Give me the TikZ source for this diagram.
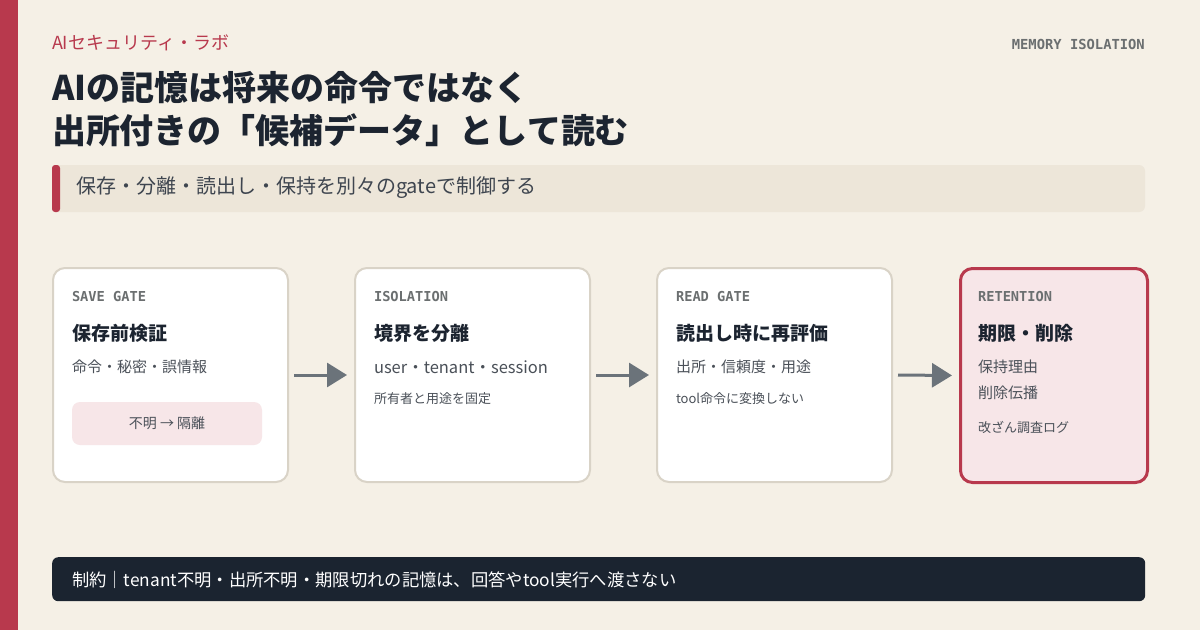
\documentclass[tikz,border=0pt]{standalone}
\usepackage{fontspec}
\setmainfont{Noto Sans CJK JP}
\newfontfamily\monob{DejaVu Sans Mono}[BoldFont={DejaVu Sans Mono Bold}]
\usetikzlibrary{arrows.meta}
\definecolor{bg}{HTML}{F5F0E6}
\definecolor{crim}{HTML}{B8394D}
\definecolor{ink}{HTML}{1C2430}
\definecolor{sub}{HTML}{4A5058}
\definecolor{lbl}{HTML}{6B6F70}
\definecolor{band}{HTML}{EDE6D9}
\definecolor{cardb}{HTML}{D9D3C7}
\definecolor{pink}{HTML}{F7E6E8}
\definecolor{arr}{HTML}{6B737A}
\definecolor{dark}{HTML}{1B2430}
\tikzset{
  txt/.style={anchor=west,inner sep=0pt,outer sep=0pt},
  card/.style={draw=cardb,line width=2pt,fill=white,rounded corners=12pt,inner sep=0pt,anchor=north west},
  lab/.style={txt,font=\monob\bfseries\fontsize{13.7}{13.7}\selectfont,text=lbl},
  ttl/.style={txt,font=\bfseries\fontsize{19}{19}\selectfont,text=ink},
  sbt/.style={txt,font=\fontsize{15}{15}\selectfont,text=sub},
  sml/.style={txt,font=\fontsize{13}{13}\selectfont,text=sub},
  flow/.style={draw=arr,line width=3pt,-{Triangle[length=20pt,width=24pt]},shorten <=5pt,shorten >=7pt}
}
\begin{document}
\begin{tikzpicture}[x=1pt,y=-1pt]
\useasboundingbox (0,0) rectangle (1200,630);
\fill[bg] (0,0) rectangle (1200,630);
\fill[crim] (0,0) rectangle (18,630);
% header
\node[txt,font=\fontsize{18}{18}\selectfont,text=crim] (brand) at (52,43) {AIセキュリティ・ラボ};
\node[anchor=east,inner sep=0pt,font=\monob\bfseries\fontsize{13.8}{13.8}\selectfont,text=lbl] (tag) at (1145,44) {MEMORY ISOLATION};
\node[txt,font=\bfseries\fontsize{34}{34}\selectfont,text=ink] (t1) at (52,88) {AIの記憶は将来の命令ではなく};
\node[txt,font=\bfseries\fontsize{34}{34}\selectfont,text=ink] (t2) at (52,130) {出所付きの「候補データ」として読む};
% band
\fill[band,rounded corners=6pt] (52,165) rectangle (1145,212);
\fill[crim,rounded corners=3pt] (52,165) rectangle (60,212);
\node[txt,font=\fontsize{20}{20}\selectfont,text=ink!85] (lead) at (76,188) {保存・分離・読出し・保持を別々のgateで制御する};
% cards
\node[card,minimum width=235pt,minimum height=214pt] (c1) at (52,267) {};
\node[card,minimum width=235pt,minimum height=214pt] (c2) at (354,267) {};
\node[card,minimum width=235pt,minimum height=214pt] (c3) at (656,267) {};
\node[card,draw=crim,line width=3pt,fill=pink,minimum width=187pt,minimum height=214pt] (c4) at (959,267) {};
% card 1
\node[lab] (l1) at (72,297) {SAVE GATE};
\node[ttl] (h1) at (72,333) {保存前検証};
\node[sbt] (s1) at (72,367) {命令・秘密・誤情報};
\node[fill=pink,rounded corners=8pt,minimum width=190pt,minimum height=43pt,inner sep=0pt,font=\fontsize{14}{14}\selectfont,text=sub] (q1) at (167,423.5) {不明 → 隔離};
% card 2
\node[lab] (l2) at (374,297) {ISOLATION};
\node[ttl] (h2) at (374,333) {境界を分離};
\node[sbt,font=\fontsize{16.5}{16.5}\selectfont] (s2) at (374,367) {user・tenant・session};
\node[sml] (m2) at (374,399) {所有者と用途を固定};
% card 3
\node[lab] (l3) at (676,297) {READ GATE};
\node[ttl] (h3) at (676,333) {読出し時に再評価};
\node[sbt] (s3) at (676,367) {出所・信頼度・用途};
\node[sml] (m3) at (676,399) {tool命令に変換しない};
% card 4
\node[lab] (l4) at (978,297) {RETENTION};
\node[ttl] (h4) at (978,333) {期限・削除};
\node[sbt] (s4) at (978,367) {保持理由};
\node[sbt] (s4b) at (978,393) {削除伝播};
\node[sml] (m4) at (978,427) {改ざん調査ログ};
% arrows
\draw[flow] (c1.east) -- (c2.west);
\draw[flow] (c2.east) -- (c3.west);
\draw[flow] (c3.east) -- (c4.west);
% bottom bar
\node[fill=dark,rounded corners=6pt,anchor=north west,minimum width=1093pt,minimum height=44pt,inner sep=0pt] (bar) at (52,557) {};
\node[txt,font=\fontsize{17.3}{17.3}\selectfont,text=white] (note) at (72,579.5) {制約｜tenant不明・出所不明・期限切れの記憶は、回答やtool実行へ渡さない};
\end{tikzpicture}
\end{document}
